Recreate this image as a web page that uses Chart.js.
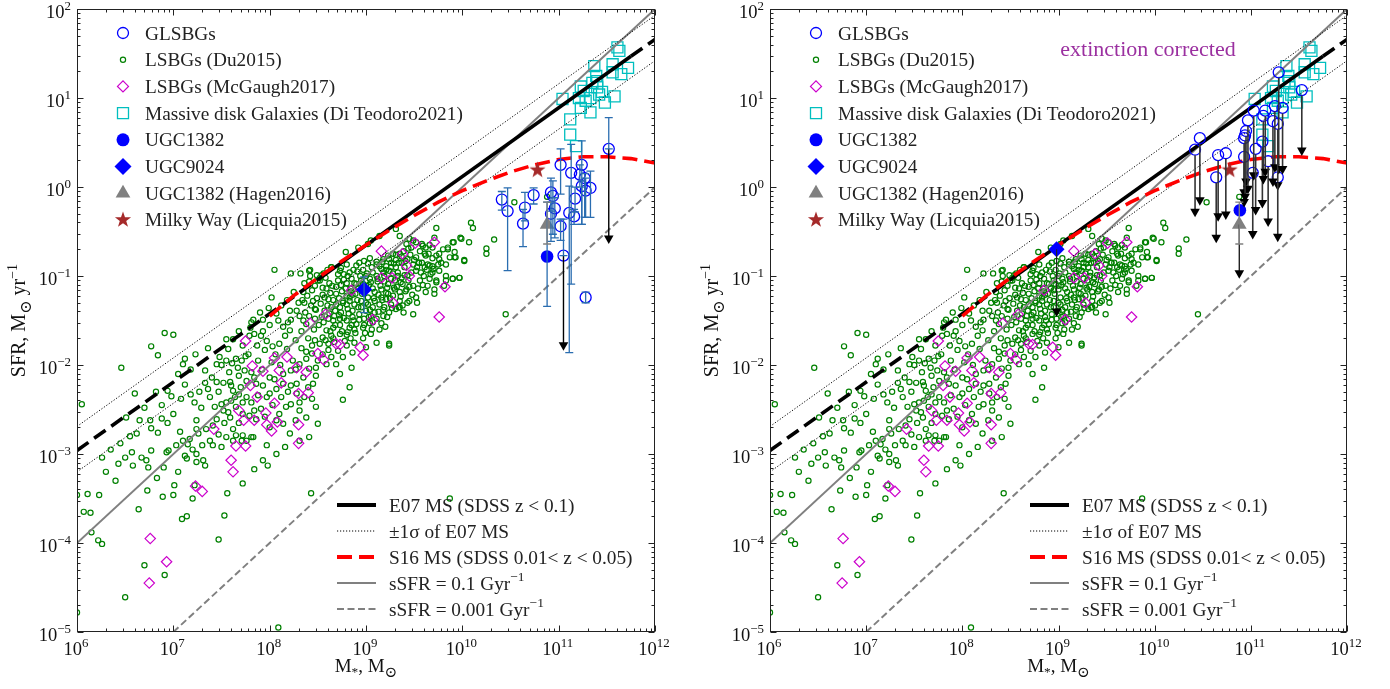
<!DOCTYPE html>
<html><head><meta charset="utf-8">
<script src="https://cdn.jsdelivr.net/npm/chart.js@4.4.1/dist/chart.umd.min.js"></script>
<style>
html,body{margin:0;padding:0;background:#fff;width:1390px;height:689px;overflow:hidden}
.pane{position:absolute;top:0;width:695px;height:689px}
canvas{display:block}
</style></head><body>
<div class="pane" style="left:0"><canvas id="c1" width="695" height="689" style="width:695px;height:689px"></canvas></div>
<div class="pane" style="left:695px"><canvas id="c2" width="695" height="689" style="width:695px;height:689px"></canvas></div>
<script>
// ---------- tick labels (exponents of 10) ----------
const xTickExps = [6,7,8,9,10,11,12];
const yTickExps = [-5,-4,-3,-2,-1,0,1,2];

// ---------- data, all in log10 units: [log M*, log SFR] ----------
const du2015 = [
[8.05,-0.93],[8.22,-0.97],[8.32,-0.97],[8.42,-0.93],[8.49,-0.99],[8.41,-1.06],[8.47,-1.11],[8.50,-1.05],[8.35,-1.18],[8.25,-1.18],
[8.02,-1.24],[7.99,-1.36],[7.90,-1.41],[7.83,-1.49],[7.81,-1.52],[7.93,-1.49],[8.09,-1.50],[8.14,-1.57],[8.22,-1.49],[8.28,-1.39],
[8.31,-1.45],[8.35,-1.50],[8.38,-1.54],[8.41,-1.45],[8.47,-1.37],[8.45,-1.28],[8.36,-1.30],[8.30,-1.30],[8.21,-1.39],[8.19,-1.52],
[8.21,-1.61],[8.16,-1.67],[8.10,-1.76],[8.03,-1.79],[7.97,-1.73],[7.91,-1.67],[7.84,-1.65],[7.79,-1.67],[7.72,-1.78],[7.62,-1.71],
[7.55,-1.71],[7.57,-1.82],[7.48,-1.91],[7.36,-1.81],[7.23,-1.88],[7.12,-1.93],[7.10,-1.99],[6.91,-1.64],[7.00,-1.66],[6.77,-1.79],
[6.84,-1.89],[6.46,-2.03],[6.05,-2.44],[6.60,-2.32],[6.51,-2.59],[6.62,-2.77],[6.76,-2.62],[6.77,-2.71],[6.84,-2.76],[6.88,-2.60],
[6.94,-2.65],[6.94,-2.29],[6.98,-2.35],[7.08,-2.38],[7.18,-2.33],[7.22,-2.42],[7.33,-2.06],[7.33,-2.20],[7.36,-2.27],[7.40,-2.14],
[7.45,-2.19],[7.45,-1.99],[7.50,-2.00],[7.55,-1.95],[7.65,-1.93],[7.67,-2.03],[7.71,-1.95],[7.74,-2.06],[7.81,-2.08],[7.84,-2.14],
[7.86,-2.21],[7.93,-2.23],[8.00,-2.14],[8.05,-2.16],[8.14,-2.10],[8.22,-2.06],[8.31,-1.99],[8.38,-1.93],[8.41,-2.04],[8.48,-2.03],
[8.50,-1.95],[7.59,-2.19],[7.60,-2.23],[7.62,-2.29],[7.64,-2.36],[7.55,-2.42],[7.50,-2.44],[7.52,-2.51],[7.57,-2.53],[7.59,-2.59],
[7.65,-2.47],[7.72,-2.42],[7.76,-2.36],[7.81,-2.42],[7.72,-2.55],[7.79,-2.57],[7.84,-2.51],[7.97,-2.36],[7.91,-2.49],[8.00,-2.32],
[8.07,-2.27],[8.14,-2.21],[8.22,-2.23],[8.28,-2.21],[8.35,-2.14],[8.40,-2.25],[8.45,-2.21],[8.28,-2.32],[8.31,-2.42],[8.22,-2.44],
[8.17,-2.47],[8.10,-2.55],[8.14,-2.66],[8.21,-2.77],[8.07,-2.62],[8.00,-2.70],[7.86,-2.61],[7.81,-2.81],[7.76,-2.85],[7.71,-2.85],
[7.65,-2.79],[7.45,-2.61],[7.41,-2.68],[7.34,-2.72],[7.24,-2.62],[7.24,-2.72],[7.26,-2.77],[7.17,-2.83],[7.10,-2.85],[7.15,-2.89],
[7.03,-2.90],[6.95,-2.96],[6.93,-2.98],[6.77,-2.96],[6.67,-3.04],[6.57,-2.98],[6.50,-3.04],[6.43,-3.11],[6.26,-3.04],[6.58,-3.13],
[6.72,-3.07],[6.74,-3.15],[7.12,-3.02],[7.14,-3.05],[7.24,-3.00],[7.24,-3.09],[7.31,-3.07],[7.33,-3.13],[7.41,-2.90],[7.50,-2.92],
[7.55,-2.81],[7.62,-2.85],[7.72,-2.79],[7.83,-2.81],[7.84,-3.17],[7.93,-3.07],[8.07,-3.00],[8.16,-2.92],[8.31,-2.85],[8.41,-2.81],
[8.50,-2.66],[8.38,-2.59],[8.31,-2.51],[8.48,-2.47],[7.98,-3.13],
[6.83,-3.27],[6.73,-3.41],[7.01,-3.35],[7.00,-3.46],[6.89,-3.48],[7.20,-3.50],[7.22,-3.35],[6.64,-3.62],[7.09,-3.73],[7.14,-3.70],
[6.00,-3.46],[6.11,-3.45],[6.23,-3.46],[6.07,-3.65],[6.14,-3.66],[6.15,-3.88],[6.22,-3.97],[6.26,-4.01],[6.70,-4.25],[6.91,-4.36],
[6.50,-4.61],[6.00,-4.78],[7.72,-3.33],[7.56,-3.44],[7.53,-3.69],[7.47,-3.96],[8.43,-3.44],[8.09,-4.95],
[8.56,-0.97],[8.64,-0.90],[8.73,-0.94],[8.77,-0.98],[8.85,-1.03],[8.80,-1.08],[8.71,-1.05],[8.65,-1.11],[8.59,-1.14],[8.55,-1.21],
[8.61,-1.26],[8.69,-1.20],[8.75,-1.17],[8.84,-1.14],[8.90,-1.09],[8.95,-1.05],[9.00,-1.00],[9.07,-0.96],[9.16,-0.92],[9.21,-0.89],
[9.26,-0.85],[9.31,-0.82],[9.35,-0.75],[9.39,-0.72],[9.47,-0.68],[9.56,-0.72],[9.58,-0.64],[9.66,-0.65],[9.73,-0.46],[9.76,-0.75],
[9.85,-0.70],[9.83,-0.87],[9.75,-0.87],[9.69,-0.80],[9.62,-0.77],[9.52,-0.79],[9.43,-0.81],[9.37,-0.85],[9.31,-0.90],[9.24,-0.94],
[9.19,-1.00],[9.12,-1.03],[9.05,-1.07],[9.00,-1.11],[8.95,-1.16],[8.89,-1.20],[8.83,-1.24],[8.76,-1.28],[8.69,-1.32],[8.64,-1.35],
[8.57,-1.39],[8.54,-1.46],[8.61,-1.48],[8.67,-1.45],[8.74,-1.41],[8.81,-1.37],[8.88,-1.32],[8.95,-1.28],[9.02,-1.24],[9.09,-1.18],
[9.16,-1.15],[9.23,-1.09],[9.30,-1.05],[9.37,-1.02],[9.43,-0.99],[9.52,-0.94],[9.61,-0.90],[9.69,-0.89],[9.78,-0.85],[9.56,-1.05],
[9.49,-1.11],[9.42,-1.15],[9.35,-1.18],[9.28,-1.22],[9.21,-1.26],[9.14,-1.32],[9.07,-1.35],[9.00,-1.39],[8.93,-1.43],[8.86,-1.46],
[8.80,-1.50],[8.73,-1.55],[8.66,-1.58],[8.59,-1.61],[8.55,-1.69],[8.64,-1.67],[8.73,-1.65],[8.81,-1.63],[8.88,-1.60],[8.97,-1.58],
[9.04,-1.53],[9.11,-1.48],[9.18,-1.45],[9.24,-1.41],[9.31,-1.37],[9.38,-1.33],[9.45,-1.28],[9.52,-1.24],[9.62,-1.18],[9.71,-1.15],
[9.81,-1.11],[9.73,-1.07],[9.66,-1.03],[9.14,-1.60],[9.05,-1.65],[8.97,-1.70],[8.88,-1.75],[8.80,-1.78],[8.71,-1.84],[8.64,-1.91],
[8.59,-1.99],[8.69,-1.99],[8.76,-1.91],[8.86,-1.86],[9.00,-1.80],[9.11,-1.75],[9.24,-1.78],[8.85,-2.03],[8.73,-2.10],[8.83,-2.25],
[8.76,-2.39],[8.80,-0.87],[8.90,-0.88],[8.98,-0.83],[9.04,-0.80],[9.11,-0.87],[9.18,-0.81],[9.23,-0.77],[9.28,-0.75],[9.42,-0.64],
[9.49,-0.60],[9.69,-0.68],[9.71,-0.57],[8.85,-1.17],[8.92,-1.13],[8.97,-1.09],[9.04,-1.03],[9.11,-1.00],[9.18,-0.96],[9.26,-0.90],
[9.33,-0.96],[9.40,-0.90],[9.49,-0.87],[9.55,-0.85],[9.64,-0.87],[9.76,-0.94],[9.83,-1.00],[9.02,-1.32],[9.09,-1.28],[9.16,-1.24],
[9.23,-1.20],[9.30,-1.15],[9.38,-1.09],[8.80,-1.32],[8.73,-1.35],[8.86,-1.39],[8.92,-1.35],[8.66,-1.50],[8.73,-1.48],[8.98,-1.48],
[9.05,-1.45],[9.19,-1.35],[9.26,-1.32],[9.35,-1.28],[8.90,-1.54],[8.83,-1.58],[8.61,-1.76],[8.67,-1.74],
[10.54,-0.17],[10.09,-0.40],[10.11,-0.46],[9.98,-0.57],[10.07,-0.62],[9.91,-0.62],[10.33,-0.59],[10.25,-0.69],[10.25,-0.75],[9.87,-0.79],
[9.92,-0.79],[10.02,-0.82],[9.90,-1.03],[9.97,-1.02],[10.45,-1.43],[10.88,-0.11],[9.87,-3.50],
[8.36,-1.08],[8.39,-1.22],[8.43,-1.33],[8.37,-1.41],[8.44,-1.16],[8.47,-1.48],[8.33,-1.62],[8.40,-1.70],[8.46,-1.60],[8.38,-1.85],
[8.44,-1.78],[8.34,-1.27],[8.49,-1.25],[8.42,-1.00],[8.48,-1.38],[8.52,-1.05],[8.55,-1.13],[8.58,-1.02],[8.62,-1.08],[8.53,-1.31],
[8.57,-1.24],[8.60,-1.33],[8.63,-1.19],[8.66,-1.27],[8.51,-1.55],[8.56,-1.52],[8.62,-1.42],[8.68,-1.39],[8.52,-1.76],[8.58,-1.72],
[8.63,-1.62],[8.68,-1.55],[8.55,-1.88],[8.61,-1.83],[8.66,-1.70],[8.69,-1.12],[8.54,-0.99],[8.60,-0.93],[8.71,-0.98],[8.74,-1.10],
[8.77,-1.04],[8.79,-1.14],[8.72,-1.25],[8.76,-1.30],[8.80,-1.22],[8.83,-1.28],[8.86,-1.21],[8.72,-1.44],[8.77,-1.47],[8.82,-1.42],
[8.87,-1.50],[8.75,-1.62],[8.80,-1.66],[8.85,-1.55],[8.89,-1.64],[8.78,-1.73],[8.84,-1.70],[8.88,-1.08],[8.83,-0.96],[8.87,-0.93],
[8.74,-0.91],[8.81,-1.00],[8.91,-0.95],[8.94,-1.00],[8.97,-0.93],[9.01,-0.97],[8.92,-1.14],[8.96,-1.20],[9.00,-1.15],[9.03,-1.10],
[9.07,-1.14],[8.91,-1.27],[8.95,-1.35],[9.00,-1.30],[9.04,-1.38],[9.08,-1.25],[8.93,-1.49],[8.98,-1.55],[9.03,-1.46],[9.07,-1.52],
[9.09,-1.41],[8.99,-1.64],[9.06,-1.60],[9.02,-0.86],[9.06,-0.90],[8.93,-0.85],[9.11,-0.84],[9.14,-0.89],[9.17,-0.84],[9.21,-0.93],
[9.12,-1.06],[9.15,-1.11],[9.19,-1.06],[9.22,-1.13],[9.26,-1.03],[9.13,-1.21],[9.17,-1.27],[9.21,-1.19],[9.25,-1.25],[9.29,-1.13],
[9.13,-1.40],[9.18,-1.38],[9.22,-1.46],[9.27,-1.36],[9.16,-1.53],[9.20,-1.57],[9.28,-0.97],[9.24,-0.81],[9.29,-0.86],[9.31,-0.76],
[9.34,-0.85],[9.37,-0.78],[9.41,-0.83],[9.33,-1.00],[9.36,-1.07],[9.40,-0.99],[9.44,-1.05],[9.47,-0.96],[9.32,-1.12],[9.36,-1.23],
[9.41,-1.17],[9.45,-1.12],[9.48,-1.21],[9.34,-1.35],[9.39,-1.41],[9.43,-1.30],[9.46,-0.76],[9.44,-0.69],[9.50,-0.82],[9.53,-0.90],
[9.57,-0.96],[9.60,-1.00],[9.54,-1.14],[9.59,-1.10],[9.63,-0.93],[9.67,-0.98],[9.58,-0.85],[9.65,-0.75],[9.70,-0.92],[9.53,-1.30],
[9.90,-0.62],[9.99,-0.58],[9.80,-0.70],[9.85,-0.68],[9.92,-0.73],[9.93,-0.79],[10.02,-0.83],[9.73,-0.77],[9.76,-0.81],[9.66,-0.88],
[9.62,-0.68],[9.61,-0.75],[9.55,-0.85],[9.69,-0.96],[9.64,-1.11],[9.71,-1.20],[9.73,-1.05],[9.90,-1.03],[9.97,-1.02],[9.83,-1.05],
[9.49,-1.43],[9.35,-1.35],[9.24,-1.76],[9.52,-0.62],[9.59,-0.66],[9.45,-0.58],[9.35,-0.55],[9.31,-0.47],[9.14,-0.55],[9.05,-0.60],
[9.02,-0.64],[8.92,-0.68],[8.79,-0.73],[8.64,-0.90],[8.41,-0.94],[8.52,-1.02],
[7.05,-2.10],[7.12,-2.22],[7.18,-2.05],[7.27,-2.30],[7.29,-2.48],[7.38,-2.36],[7.43,-2.47],[7.47,-2.30],[7.52,-2.20],[7.58,-2.08],
[7.61,-1.98],[7.68,-2.12],[7.70,-2.25],[7.76,-2.18],[7.78,-1.88],[7.88,-1.95],[7.92,-2.05],[7.95,-1.83],[8.02,-1.97],[8.06,-1.88],
[8.11,-2.00],[8.18,-1.82],[8.24,-1.95],[8.27,-1.72],[8.33,-1.81],[7.88,-2.34],[7.95,-2.58],[8.03,-2.45],[8.12,-2.36],[8.19,-2.30],
[7.68,-2.65],[7.62,-2.72],[7.53,-2.65],[7.47,-2.78],[7.38,-2.85],[7.30,-2.90],[7.20,-2.95],[7.07,-2.75],[7.00,-2.55],[6.88,-2.45],
[6.82,-2.30],[6.70,-2.48],[6.65,-2.62],[6.55,-2.80],[6.45,-2.88],[6.35,-2.95],[6.30,-3.20],[6.40,-3.30],[6.90,-3.15],[7.05,-3.20],
[7.60,-2.40],[7.68,-2.33],[7.93,-1.62],[8.00,-1.55],[8.07,-1.42],[8.12,-1.33],[8.18,-1.27],[7.87,-1.78],[7.75,-1.90],[7.97,-2.90],
[8.27,-2.62],[8.36,-2.36],[8.44,-2.38],[8.48,-2.12],[8.44,-1.87],[8.47,-1.72],[8.27,-2.05],[7.80,-1.58],[7.68,-1.62]
];
const mcgaugh2017 = [
[7.75,-1.73],[8.42,-1.53],[8.50,-1.87],[8.05,-1.92],[7.82,-2.01],[8.18,-1.91],[7.93,-2.07],[8.10,-2.06],[8.28,-2.03],[8.38,-2.08],
[7.80,-2.23],[8.12,-2.20],[7.87,-2.36],[8.30,-2.32],[8.40,-2.31],[8.05,-2.43],[7.68,-2.51],[7.96,-2.54],[7.73,-2.62],[7.84,-2.62],
[7.97,-2.67],[8.08,-2.64],[8.02,-2.74],[7.42,-2.72],[8.30,-2.67],[8.30,-2.88],[7.65,-2.91],[7.75,-2.91],[7.60,-3.07],[7.62,-3.20],
[9.16,-0.72],[9.51,-0.63],[9.71,-0.62],[9.38,-0.75],[9.42,-0.88],[9.16,-1.02],[9.27,-1.02],[9.45,-1.00],[9.82,-1.12],[9.28,-1.30],
[9.76,-1.46],[9.07,-1.49],[8.85,-1.16],[8.58,-1.43],[8.69,-1.76],[8.73,-1.77],[8.94,-1.80],[8.97,-1.89],[8.56,-1.94],
[7.23,-3.36],[7.30,-3.42],[6.76,-3.95],[6.93,-4.21],[6.75,-4.45]
];
const diTeodoro2021 = [
[11.04,0.99],[11.12,0.76],[11.12,0.59],[11.18,0.46],[11.23,1.13],[11.26,1.08],[11.21,1.00],[11.28,0.97],[11.33,0.84],[11.23,0.89],
[11.33,1.00],[11.37,1.36],[11.39,1.25],[11.35,1.17],[11.40,1.12],[11.42,1.04],[11.48,0.95],[11.45,1.07],[11.40,1.19],[11.58,1.02],
[11.56,1.38],[11.65,1.27],[11.56,1.29],[11.72,1.34],[11.61,1.57],[11.63,1.53]
];
// GLSBGs, observed: [logM, logSFR, errLow, errHigh, upper-limit arrow tip]
const glsbgObs = [
[10.41,-0.14,-0.26,-0.05,null],[10.47,-0.27,-0.94,-0.01,null],[10.63,-0.41,-0.67,-0.25,null],[10.65,-0.23,-0.38,-0.06,null],
[10.74,-0.09,-0.19,-0.01,null],[10.92,-0.06,-0.27,0.10,null],[10.94,-0.10,-0.53,0.07,null],[10.96,-0.24,-0.57,-0.12,null],
[10.92,-0.30,-0.61,-0.17,null],[11.02,0.25,-0.08,0.43,null],[11.02,-0.44,-0.60,-0.36,null],[11.05,-0.77,null,-0.36,-1.84],
[11.13,0.16,-1.09,0.48,null],[11.11,-0.29,-1.86,0.01,null],[11.16,-0.33,-0.42,-0.25,null],[11.17,-0.13,-0.28,0.00,null],
[11.24,0.25,-0.42,0.52,null],[11.22,0.14,0.00,0.25,null],[11.27,0.10,-0.34,0.15,null],[11.24,0.01,-0.42,0.07,null],
[11.28,-0.04,-0.34,0.10,null],[11.33,-0.01,-0.34,0.18,null],[11.28,-1.24,-1.30,-1.18,null],[11.52,0.43,null,0.78,-0.64]
];
// GLSBGs, extinction corrected: [logM, logSFR, arrow tip]
const glsbgCorr = [
[10.42,0.42,-0.34],[10.47,0.55,-0.21],[10.64,0.11,-0.63],[10.66,0.36,-0.39],[10.74,0.38,-0.37],[10.93,0.34,-0.23],
[10.93,0.55,-0.12],[10.95,0.63,0.00],[10.97,0.75,-0.08],[10.94,0.58,-0.17],[11.02,0.16,-0.59],[11.03,0.86,0.07],
[11.05,0.43,-0.32],[11.12,0.51,-0.24],[11.13,0.80,0.03],[11.15,0.86,0.11],[11.18,0.29,-0.45],[11.23,0.74,0.00],
[11.25,0.91,0.16],[11.29,1.29,0.14],[11.28,0.71,-0.04],[11.33,0.89,0.14],[11.28,0.11,-0.62],[11.53,1.09,0.35]
];
const ugc1382Obs = [10.88,-0.78,-1.34,-0.17];   // logM, logSFR, errLow, errHigh
const ugc1382Corr = [10.886,-0.26];
const ugc9024Obs = [8.98,-1.15,-1.41,-1.01];
const ugc9024Corr = [8.98,-0.70,-1.46];          // logM, logSFR, arrow tip
const hagen2016 = [10.88,-0.42,-0.64,-0.17];      // logM, logSFR, errLow, errHigh
const hagen2016Tip = -1.03;
const milkyWay = [10.78,0.19];
// relations (log M*, log SFR)
const e07Mass = [6, 8.5, 11.75, 12];
const e07SFR  = [-2.96, -1.04, 1.47, 1.66];
const e07UpperSFR = [-2.69, 1.93];
const e07LowerSFR = [-3.20, 1.42];
const s16Mass = [8.0,8.25,8.5,8.75,9.0,9.25,9.5,9.75,10.0,10.25,10.5,10.75,11.0,11.25,11.5,11.75,12.0];
const s16SFR  = [-1.45,-1.22,-1.02,-0.83,-0.65,-0.48,-0.32,-0.17,-0.04,0.07,0.17,0.25,0.31,0.34,0.34,0.32,0.27];
const ssfr01Mass = [6,12],   ssfr01SFR = [-4,2];
const ssfr0001Mass = [7,12], ssfr0001SFR = [-5,0];

// ---------- helpers ----------
const F = '"Liberation Serif","DejaVu Serif","Times New Roman",serif';
const P = (m,s) => ({x: Math.pow(10,m), y: Math.pow(10,s)});
const pairs = arr => arr.map(r => P(r[0], r[1]));
const zip = (ms, ss) => ms.map((m,i) => P(m, ss[i]));
const COL = {blue:'#0000ff', green:'#008000', mag:'#cc00cc', cyan:'#00bfbf', err:'#2a6db0', gray:'#808080', brown:'#a52a2a', red:'#ff0000'};

function starPath(g, cx, cy, R, r){
  g.beginPath();
  for (let i=0;i<10;i++){
    const a = -Math.PI/2 + i*Math.PI/5, rr = i%2===0 ? R : r;
    const px = cx + rr*Math.cos(a), py = cy + rr*Math.sin(a);
    if (i===0) g.moveTo(px,py); else g.lineTo(px,py);
  }
  g.closePath();
}
function makeStar(R, color){
  const c = document.createElement('canvas'); const s = Math.ceil(2*R+2);
  c.width = s; c.height = s;
  const g = c.getContext('2d'); g.fillStyle = color; starPath(g, s/2, s/2, R, R*0.4); g.fill();
  return c;
}
const starImg = makeStar(8.5, COL.brown);

function fontFor(mode, fs){
  const k = mode===1 ? 0.7 : mode===-1 ? 0.8 : mode===-2 ? 0.7 : 1;
  return (fs*k).toFixed(1)+'px '+F;
}
function rich(ctx, segs, x, y, fs, align){
  ctx.textAlign = 'left';
  let total = 0; const ws = [];
  segs.forEach(([t,m]) => { ctx.font = fontFor(m,fs); const w = ctx.measureText(t).width; ws.push(w); total += w; });
  let cx = align==='center' ? x-total/2 : align==='right' ? x-total : x;
  segs.forEach(([t,m],i) => {
    ctx.font = fontFor(m,fs);
    const dy = m===1 ? -0.42*fs : m===-1 ? 0.28*fs : m===-2 ? 0.22*fs : 0;
    ctx.fillText(t, cx, y+dy); cx += ws[i];
  });
}
function expText(e){ return e<0 ? '\u2212'+(-e) : String(e); }

function drawMarker(ctx, type, x, y){
  ctx.save(); ctx.setLineDash([]);
  ctx.beginPath();
  if (type==='glsbg'){ ctx.arc(x,y,5.5,0,2*Math.PI); ctx.strokeStyle=COL.blue; ctx.lineWidth=1.3; ctx.stroke(); }
  else if (type==='du'){ ctx.arc(x,y,2.6,0,2*Math.PI); ctx.strokeStyle=COL.green; ctx.lineWidth=1.2; ctx.stroke(); }
  else if (type==='mc'){ ctx.moveTo(x-5.5,y); ctx.lineTo(x,y-5.5); ctx.lineTo(x+5.5,y); ctx.lineTo(x,y+5.5); ctx.closePath(); ctx.strokeStyle=COL.mag; ctx.lineWidth=1.2; ctx.stroke(); }
  else if (type==='dt'){ ctx.rect(x-5.5,y-5.5,11,11); ctx.strokeStyle=COL.cyan; ctx.lineWidth=1.3; ctx.stroke(); }
  else if (type==='u1382'){ ctx.arc(x,y,6.5,0,2*Math.PI); ctx.fillStyle=COL.blue; ctx.fill(); }
  else if (type==='u9024'){ ctx.moveTo(x-8.5,y); ctx.lineTo(x,y-8.5); ctx.lineTo(x+8.5,y); ctx.lineTo(x,y+8.5); ctx.closePath(); ctx.fillStyle=COL.blue; ctx.fill(); }
  else if (type==='hagen'){ const r=8.5; ctx.moveTo(x,y-r); ctx.lineTo(x+r*0.866,y+r*0.5); ctx.lineTo(x-r*0.866,y+r*0.5); ctx.closePath(); ctx.fillStyle=COL.gray; ctx.fill(); }
  else if (type==='mw'){ starPath(ctx,x,y,8.5,3.4); ctx.fillStyle=COL.brown; ctx.fill(); }
  ctx.restore();
}

const legend1 = [
 ['glsbg','GLSBGs'],['du','LSBGs (Du2015)'],['mc','LSBGs (McGaugh2017)'],['dt','Massive disk Galaxies (Di Teodoro2021)'],
 ['u1382','UGC1382'],['u9024','UGC9024'],['hagen','UGC1382 (Hagen2016)'],['mw','Milky Way (Licquia2015)']
];
const legend2 = [
 [{c:'#000',w:4,d:[]}, [['E07 MS (SDSS z < 0.1)',0]]],
 [{c:'#000',w:1,d:[1.2,1.8]}, [['\u00b11\u03c3 of E07 MS',0]]],
 [{c:COL.red,w:4,d:[15,7]}, [['S16 MS (SDSS 0.01< z < 0.05)',0]]],
 [{c:COL.gray,w:2,d:[]}, [['sSFR = 0.1 Gyr',0],['\u22121',1]]],
 [{c:COL.gray,w:2,d:[7,3.5]}, [['sSFR = 0.001 Gyr',0],['\u22121',1]]]
];
const LEG_FS = 19.3;

function axesPlugin(corrected){
  return { id:'axesDeco', afterDraw(chart){
    const ctx = chart.ctx, a = chart.chartArea, xs = chart.scales.x, ys = chart.scales.y;
    ctx.save();
    ctx.fillStyle = '#222'; ctx.strokeStyle = '#222'; ctx.lineWidth = 1; ctx.setLineDash([]);
    const L = Math.round(a.left)+0.5, R = Math.round(a.right)-0.5, T = Math.round(a.top)+0.5, B = Math.round(a.bottom)-0.5;
    ctx.strokeRect(L, T, R-L, B-T);
    ctx.beginPath();
    for (let e=xTickExps[0]; e<=xTickExps[xTickExps.length-1]; e++){
      for (let k=1;k<10;k++){
        if (e===xTickExps[xTickExps.length-1] && k>1) break;
        const px = Math.round(xs.getPixelForValue(k*Math.pow(10,e)))+0.5, len = k===1 ? 6 : 3;
        ctx.moveTo(px,B); ctx.lineTo(px,B-len); ctx.moveTo(px,T); ctx.lineTo(px,T+len);
      }
    }
    for (let e=yTickExps[0]; e<=yTickExps[yTickExps.length-1]; e++){
      for (let k=1;k<10;k++){
        if (e===yTickExps[yTickExps.length-1] && k>1) break;
        const py = Math.round(ys.getPixelForValue(k*Math.pow(10,e)))+0.5, len = k===1 ? 6 : 3;
        ctx.moveTo(L,py); ctx.lineTo(L+len,py); ctx.moveTo(R,py); ctx.lineTo(R-len,py);
      }
    }
    ctx.stroke();
    ctx.fillStyle = '#111';
    xTickExps.forEach(e => {
      const px = xs.getPixelForValue(Math.pow(10,e));
      rich(ctx, [['10',0],[expText(e),1]], px-1, a.bottom+23, 18.5, 'center');
    });
    yTickExps.forEach(e => {
      const py = ys.getPixelForValue(Math.pow(10,e));
      rich(ctx, [['10',0],[expText(e),1]], a.left-6, py+9, 18.5, 'right');
    });
    rich(ctx, [['M',0],['*',-2],[', M',0],['\u2299',-1]], (a.left+a.right)/2, a.bottom+40, 19, 'center');
    ctx.save(); ctx.translate(a.left-52, (a.top+a.bottom)/2); ctx.rotate(-Math.PI/2);
    rich(ctx, [['SFR, M',0],['\u2299',-1],[' yr',0],['\u22121',1]], 0, 0, 20, 'center');
    ctx.restore();
    legend1.forEach(([type,label],i) => {
      const y = 33 + i*26.7;
      drawMarker(ctx, type, a.left+46, y);
      ctx.fillStyle = '#222';
      rich(ctx, [[label,0]], a.left+68, y+6.5, LEG_FS, 'left');
    });
    legend2.forEach(([st,segs],i) => {
      const y = 505 + i*26;
      ctx.save(); ctx.beginPath(); ctx.strokeStyle = st.c; ctx.lineWidth = st.w; ctx.setLineDash(st.d);
      ctx.moveTo(a.left+260, y); ctx.lineTo(a.left+299, y); ctx.stroke(); ctx.restore();
      ctx.fillStyle = '#222';
      rich(ctx, segs, a.left+312, y+6.5, LEG_FS, 'left');
    });
    if (corrected){
      ctx.fillStyle = '#9b30a0';
      rich(ctx, [['extinction corrected',0]], a.left+378, 56, 22, 'center');
    }
    ctx.restore();
  }};
}

function errPlugin(items){
  return { id:'errs', afterDatasetsDraw(chart){
    const ctx = chart.ctx, a = chart.chartArea, xs = chart.scales.x, ys = chart.scales.y;
    ctx.save();
    ctx.beginPath(); ctx.rect(a.left, a.top, a.right-a.left, a.bottom-a.top); ctx.clip();
    ctx.setLineDash([]);
    const X = m => xs.getPixelForValue(Math.pow(10,m)), Y = s => ys.getPixelForValue(Math.pow(10,s));
    items.forEach(it => {
      const x = X(it.m);
      if (it.tip !== undefined && it.tip !== null){
        const y0 = Y(it.s) + (it.gap||0), y1 = Y(it.tip);
        ctx.strokeStyle = it.arrowColor||'#000'; ctx.lineWidth = it.arrowWidth||1.4;
        ctx.beginPath(); ctx.moveTo(x,y0); ctx.lineTo(x,y1-7); ctx.stroke();
        ctx.fillStyle = '#000'; ctx.beginPath(); ctx.moveTo(x-4.8,y1-8.5); ctx.lineTo(x+4.8,y1-8.5); ctx.lineTo(x,y1); ctx.closePath(); ctx.fill();
      }
      if (it.lo !== undefined){
        const lo = it.lo===null ? it.s : it.lo, hi = it.hi===null ? it.s : it.hi;
        const yl = Y(lo), yh = Y(hi);
        ctx.strokeStyle = it.color; ctx.lineWidth = 1.3;
        ctx.beginPath(); ctx.moveTo(x,yl); ctx.lineTo(x,yh);
        ctx.moveTo(x-4,yl); ctx.lineTo(x+4,yl); ctx.moveTo(x-4,yh); ctx.lineTo(x+4,yh);
        if (it.capAtPoint){ const yp = Y(it.s); ctx.moveTo(x-4,yp); ctx.lineTo(x+4,yp); }
        ctx.stroke();
      }
    });
    ctx.restore();
  }};
}

function lineDS(data, color, width, dash){
  return {type:'scatter', data, showLine:true, pointRadius:0, borderColor:color, borderWidth:width, borderDash:dash||[], fill:false, tension:0};
}
function ptsDS(data, style, radius, border, bg, bw){
  return {type:'scatter', data, showLine:false, pointStyle:style, pointRadius:radius, pointBorderColor:border, pointBackgroundColor:bg, pointBorderWidth:bw, borderColor:border, backgroundColor:bg};
}

function buildPanel(canvasId, corrected, padLeft, padRight){
  const gl = corrected ? glsbgCorr.map(r=>P(r[0],r[1])) : glsbgObs.map(r=>P(r[0],r[1]));
  const u1382 = corrected ? [P(ugc1382Corr[0],ugc1382Corr[1])] : [P(ugc1382Obs[0],ugc1382Obs[1])];
  const u9024 = corrected ? [P(ugc9024Corr[0],ugc9024Corr[1])] : [P(ugc9024Obs[0],ugc9024Obs[1])];
  const datasets = [
    ptsDS([P(milkyWay[0],milkyWay[1])], starImg, 8.5, COL.brown, COL.brown, 0),
    ptsDS([P(hagen2016[0],hagen2016[1])], 'triangle', 8.5, COL.gray, COL.gray, 0),
    ptsDS(u9024, 'rectRot', 8, COL.blue, COL.blue, 0),
    ptsDS(u1382, 'circle', 6.3, COL.blue, COL.blue, 0),
    ptsDS(gl, 'circle', 5.5, COL.blue, 'rgba(0,0,0,0)', 1.3),
    lineDS(zip(s16Mass, s16SFR), COL.red, 3.6, [15,7]),
    lineDS(zip(e07Mass.slice(1,3), e07SFR.slice(1,3)), '#000', 3.6, []),
    lineDS(zip(e07Mass.slice(0,2), e07SFR.slice(0,2)), '#000', 3.6, [14,7]),
    lineDS(zip(e07Mass.slice(2,4), e07SFR.slice(2,4)), '#000', 3.6, [14,7]),
    lineDS(zip([e07Mass[0],e07Mass[3]], e07UpperSFR), '#000', 1, [1.2,1.8]),
    lineDS(zip([e07Mass[0],e07Mass[3]], e07LowerSFR), '#000', 1, [1.2,1.8]),
    lineDS(zip(ssfr01Mass, ssfr01SFR), COL.gray, 2, []),
    lineDS(zip(ssfr0001Mass, ssfr0001SFR), COL.gray, 2, [7,3.5]),
    ptsDS(pairs(diTeodoro2021), 'rect', 7.8, COL.cyan, 'rgba(0,0,0,0)', 1.3),
    ptsDS(pairs(mcgaugh2017), 'rectRot', 5.2, COL.mag, 'rgba(0,0,0,0)', 1.2),
    ptsDS(pairs(du2015), 'circle', 2.6, COL.green, 'rgba(0,0,0,0)', 1.2)
  ];
  const items = [];
  if (!corrected){
    glsbgObs.forEach(r => {
      if (r[4] !== null) items.push({m:r[0], s:r[1], tip:r[4], arrowColor:'#000', arrowWidth:1.4});
      items.push({m:r[0], s:r[1], lo:r[2], hi:r[3], color:COL.err, capAtPoint: r[4]!==null});
    });
    items.push({m:ugc1382Obs[0], s:ugc1382Obs[1], lo:ugc1382Obs[2], hi:ugc1382Obs[3], color:COL.err});
    items.push({m:ugc9024Obs[0], s:ugc9024Obs[1], lo:ugc9024Obs[2], hi:ugc9024Obs[3], color:COL.err});
    items.push({m:hagen2016[0], s:hagen2016[1], lo:hagen2016[2], hi:hagen2016[3], color:COL.gray});
  } else {
    glsbgCorr.forEach(r => items.push({m:r[0], s:r[1], tip:r[2], arrowColor:'#333', arrowWidth:1.6, gap:5.5}));
    items.push({m:ugc9024Corr[0], s:ugc9024Corr[1], tip:ugc9024Corr[2], arrowColor:'#222', arrowWidth:1.2});
    items.push({m:hagen2016[0], s:hagen2016[1], tip:hagen2016Tip, arrowColor:'#222', arrowWidth:1.4});
    items.push({m:hagen2016[0], s:hagen2016[1], lo:hagen2016[2], hi:hagen2016[3], color:COL.gray});
  }
  new Chart(document.getElementById(canvasId), {
    type:'scatter',
    data:{datasets},
    options:{
      responsive:false, animation:false, events:[],
      layout:{padding:{left:padLeft, right:padRight, top:8, bottom:57}},
      plugins:{legend:{display:false}, tooltip:{enabled:false}},
      scales:{
        x:{type:'logarithmic', min:1e6, max:1e12, display:false},
        y:{type:'logarithmic', min:1e-5, max:1e2, display:false}
      }
    },
    plugins:[errPlugin(items), axesPlugin(corrected)]
  });
}
buildPanel('c1', false, 77, 40);
buildPanel('c2', true, 75, 43);
</script></body></html>
